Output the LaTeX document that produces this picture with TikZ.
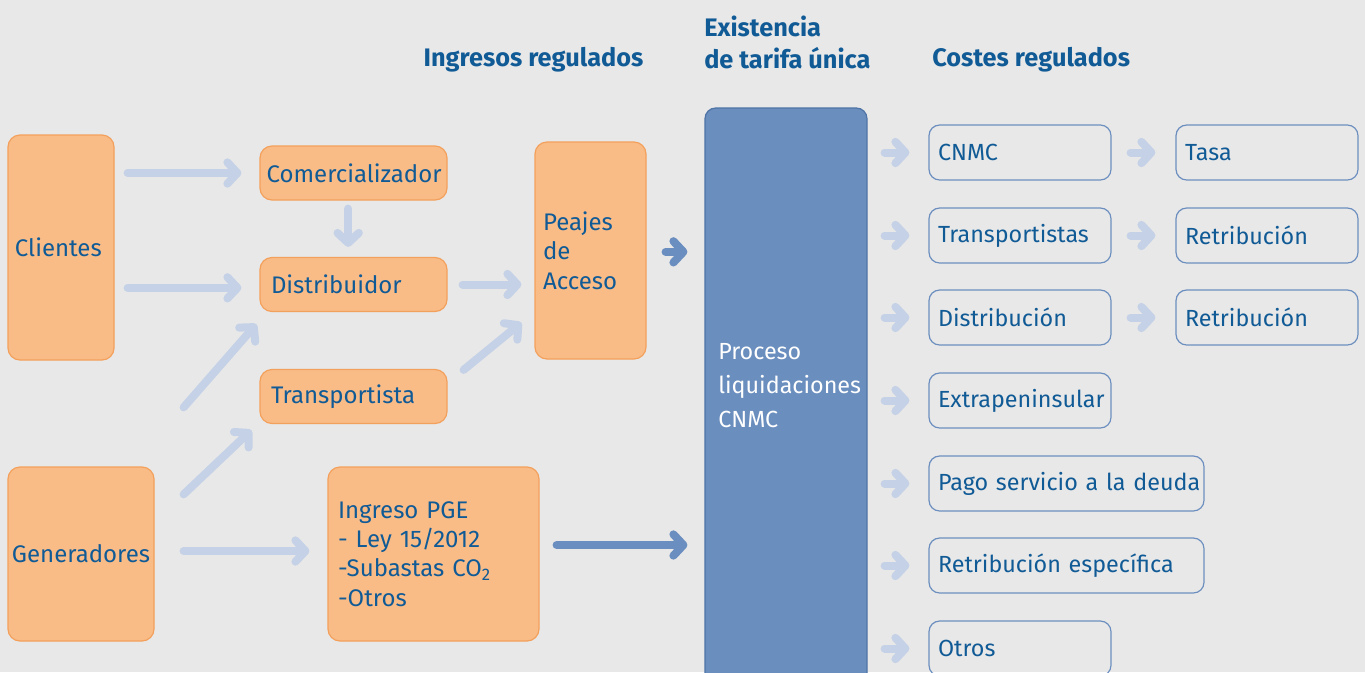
\documentclass[tikz,border=0pt]{standalone}
\usepackage{fontspec}
\setmainfont{Fira Sans}
\usetikzlibrary{arrows.meta}
\definecolor{bg}{HTML}{E8E8E8}
\definecolor{orangef}{HTML}{F9BC87}
\definecolor{orangeb}{HTML}{F3A05C}
\definecolor{tblue}{HTML}{105A96}
\definecolor{lblue}{HTML}{C5D1E6}
\definecolor{dblue}{HTML}{6A8EBF}
\definecolor{prof}{HTML}{6A8EBE}
\definecolor{prob}{HTML}{4E73A6}
\definecolor{rbord}{HTML}{6D8FBF}
\tikzset{
  obox/.style={draw=orangeb, fill=orangef, line width=0.9pt, rounded corners=9pt,
    text=tblue, align=left, inner ysep=0pt},
  rbox/.style={draw=rbord, line width=0.9pt, rounded corners=8pt, text=tblue,
    align=left, inner xsep=6.75pt, inner ysep=0pt, minimum height=41.25pt,
    font=\fontsize{17.5}{21}\selectfont},
  rnarrow/.style={rbox, text width=123pt},
  rwide/.style={rbox, text width=192.75pt},
  larr/.style={draw=lblue, line width=6pt, line cap=round,
    -{Straight Barb[length=7.5pt,width=16pt,round]}},
  darr/.style={larr, draw=dblue},
  titletext/.style={text=tblue, font=\fontsize{19}{24}\selectfont\bfseries, inner sep=0pt, align=left}
}
\begin{document}
\begin{tikzpicture}[x=0.75pt,y=-0.75pt, font=\fontsize{18}{22}\selectfont]
\useasboundingbox (0,0) rectangle (1365,672);
\fill[bg] (0,0) rectangle (1365,672);
\clip (0,0) rectangle (1365,672);

% titles
\node[titletext] (tin) at (533.5,60) {Ingresos regulados};
\node[titletext, anchor=west] (tex) at (704,42) {Existencia\\de tarifa única};
\node[titletext, anchor=west] (tco) at (932,60) {Costes regulados};

% left boxes
\node[obox, minimum height=168.75pt, text width=69pt, inner xsep=5.25pt] (cli) at (61,247.5) {Clientes};
\node[obox, minimum height=130.5pt, text width=103.5pt, inner xsep=3pt] (gen) at (81,554) {Generadores};
\node[obox, minimum height=40.5pt, text width=130.25pt, inner xsep=5pt, align=center] (com) at (353.5,173) {Comercializador};
\node[obox, minimum height=40.5pt, text width=123.75pt, inner xsep=8.25pt] (dis) at (353.5,284.5) {Distribuidor};
\node[obox, minimum height=40.5pt, text width=123.75pt, inner xsep=8.25pt] (tra) at (353.5,396.5) {Transportista};
\node[obox, minimum height=162.75pt, text width=71.25pt, inner xsep=6pt] (pea) at (590.5,250.5) {Peajes\\de\\Acceso};
\node[obox, minimum height=130.5pt, text width=143.25pt, inner xsep=7.5pt] (pge) at (433.5,554)
  {Ingreso PGE\\- Ley 15/2012\\-Subastas CO\textsubscript{2}\\-Otros};

% central box
\node[draw=prob, fill=prof, line width=0.9pt, rounded corners=8pt, minimum width=121.5pt,
  minimum height=436.5pt, inner sep=0pt] (pro) at (786,399) {};
\node[anchor=west, align=left, inner sep=0pt, text=white, font=\fontsize{17.5}{25.5}\selectfont] (protext) at (718,386)
  {Proceso\\liquidaciones\\CNMC};

% right boxes
\node[rnarrow] (cnmc) at (1020,152.5) {CNMC};
\node[rnarrow] (rtra) at (1020,235.5) {Transportistas};
\node[rnarrow] (rdis) at (1020,317.5) {Distribución};
\node[rnarrow] (rext) at (1020,400.5) {Extrapeninsular};
\node[rwide]   (rpag) at (1066.5,483.5) {\mbox{Pago servicio a la deuda}};
\node[rwide]   (rret) at (1066.5,565.5) {Retribución específica};
\node[rnarrow] (rotr) at (1020,648.5) {Otros};
\node[rnarrow] (tasa) at (1267,152.5) {Tasa};
\node[rnarrow] (ret1) at (1267,235.5) {Retribución};
\node[rnarrow] (ret2) at (1267,317.5) {Retribución};

% left connectors
\draw[larr, shorten <=9.75pt, shorten >=13.5pt] (cli.east |- com) -- (com.west);
\draw[larr, shorten <=9.75pt, shorten >=13.5pt] ([yshift=-2.5pt]cli.east |- dis) -- ([yshift=-2.5pt]dis.west);
\draw[larr, shorten <=6pt, shorten >=7.5pt] ([xshift=-4pt]com.south) -- ([xshift=-4pt]dis.north);
\draw[larr, shorten <=11.25pt, shorten >=9.75pt] (dis.east) -- (pea.west |- dis.east);
\draw[larr] ([shift={(16,1)}]tra.north east) -- ([shift={(-13,-37)}]pea.south west);
\draw[larr] ([shift={(29,-59)}]gen.north east) -- ([shift={(-3,12)}]dis.south west);
\draw[larr] ([shift={(29,28)}]gen.north east) -- ([shift={(-8,6)}]tra.south west);
\draw[larr, shorten <=21.75pt, shorten >=13.5pt] ([yshift=2.25pt]gen.east) -- ([yshift=2.25pt]pge.west);
\draw[darr, shorten <=14.25pt, shorten >=12.75pt] ([yshift=-1pt]pea.east) -- ([yshift=-1pt]pro.west |- pea.east);
\draw[darr, shorten <=12.75pt, shorten >=12.75pt] ([yshift=6.75pt]pge.east) -- ([yshift=6.75pt]pro.west |- pge.east);

% right connectors
\foreach \r in {cnmc,rtra,rdis,rext,rpag,rret,rotr}{
  \draw[larr, shorten <=12.75pt, shorten >=14.25pt] (pro.east |- \r) -- (\r.west);
}
\draw[larr, shorten <=14.25pt, shorten >=15pt] (cnmc.east) -- (tasa.west);
\draw[larr, shorten <=14.25pt, shorten >=15pt] (rtra.east) -- (ret1.west);
\draw[larr, shorten <=14.25pt, shorten >=15pt] (rdis.east) -- (ret2.west);
\end{tikzpicture}
\end{document}
